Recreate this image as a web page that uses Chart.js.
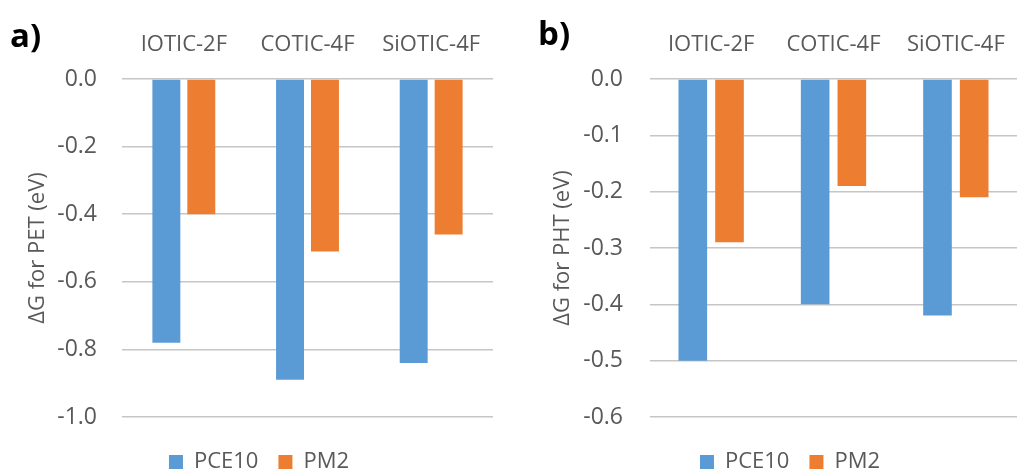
<!DOCTYPE html>
<html><head><meta charset="utf-8">
<script src="https://cdn.jsdelivr.net/npm/chart.js@4.4.1/dist/chart.umd.min.js"></script>
<style>
html,body{margin:0;padding:0;background:#fff;overflow:hidden;width:1017px;height:472px;}
#wrap{position:relative;width:1017px;height:472px;overflow:hidden;}
canvas{position:absolute;top:0;}
.lbl{position:absolute;font-family:'Open Sans';font-weight:bold;font-size:33px;line-height:1;color:#000;}
</style></head><body>
<div id="wrap">
<canvas id="ca" width="518" height="483" style="left:0"></canvas>
<canvas id="cb" width="560" height="483" style="left:510px"></canvas>
<div class="lbl" style="left:10px;top:18px">a)</div>
<div class="lbl" style="left:538px;top:16px">b)</div>
</div>
<script>
const categories = ['IOTIC-2F', 'COTIC-4F', 'SiOTIC-4F'];
const seriesNames = ['PCE10', 'PM2'];
const petPCE10 = [-0.78, -0.89, -0.84];
const petPM2 = [-0.40, -0.51, -0.46];
const phtPCE10 = [-0.50, -0.40, -0.42];
const phtPM2 = [-0.29, -0.19, -0.21];
const ticksA = [0, -0.2, -0.4, -0.6, -0.8, -1.0];
const ticksB = [0, -0.1, -0.2, -0.3, -0.4, -0.5, -0.6];
const titleA = 'ΔG for PET (eV)';
const titleB = 'ΔG for PHT (eV)';

const FONT = 'Open Sans';
const TXT = '#595959';
const GRID = '#c6c6c6';
const BLUE = '#5B9BD5';
const ORANGE = '#ED7D31';
Chart.defaults.font.family = FONT;
Chart.defaults.color = TXT;

function makeChart(id, v1, v2, ticks, yTitle, opt) {
  return new Chart(document.getElementById(id), {
    type: 'bar',
    data: {
      labels: categories,
      datasets: [
        {label: seriesNames[0], data: v1, backgroundColor: BLUE, borderWidth: 0,
         categoryPercentage: opt.cp, barPercentage: opt.bp},
        {label: seriesNames[1], data: v2, backgroundColor: ORANGE, borderWidth: 0,
         categoryPercentage: opt.cp, barPercentage: opt.bp}
      ]
    },
    options: {
      responsive: false,
      animation: false,
      devicePixelRatio: 1,
      layout: {padding: 0},
      plugins: {
        tooltip: {enabled: false},
        legend: {
          position: 'bottom',
          title: {display: true, text: '', font: {size: 14, lineHeight: 1}, padding: 0},
          labels: {boxWidth: 14, boxHeight: 14, padding: 20, color: TXT, font: {size: 22}}
        }
      },
      scales: {
        x: {
          position: 'top',
          grid: {display: false},
          border: {display: false},
          ticks: {color: TXT, font: {size: 22}, padding: 13, maxRotation: 0},
          afterFit(s) { s.height = 79; }
        },
        y: {
          type: 'linear',
          min: ticks[ticks.length - 1], max: ticks[0],
          afterBuildTicks(s) { s.ticks = ticks.slice().reverse().map(v => ({value: v})); },
          ticks: {color: TXT, font: {size: 23}, padding: opt.tickPad,
                  callback: v => v.toFixed(1)},
          grid: {color: GRID, lineWidth: 1.5, drawTicks: false},
          border: {display: false},
          title: {display: true, text: yTitle, color: TXT, font: {size: 22},
                  padding: {top: opt.titlePad, bottom: 0}},
          afterFit(s) { s.width = opt.yw; }
        },
        y2: {
          type: 'linear',
          position: 'right',
          grid: {display: false},
          border: {display: false},
          ticks: {display: false},
          afterFit(s) { s.width = opt.rw; }
        }
      }
    }
  });
}

makeChart('ca', petPCE10, petPM2, ticksA, titleA, {cp: 0.565, bp: 0.8, yw: 122, rw: 25, tickPad: 25, titlePad: 25});
makeChart('cb', phtPCE10, phtPM2, ticksB, titleB, {cp: 0.6, bp: 0.78, yw: 140, rw: 53, tickPad: 27, titlePad: 40});
</script>
</body></html>
